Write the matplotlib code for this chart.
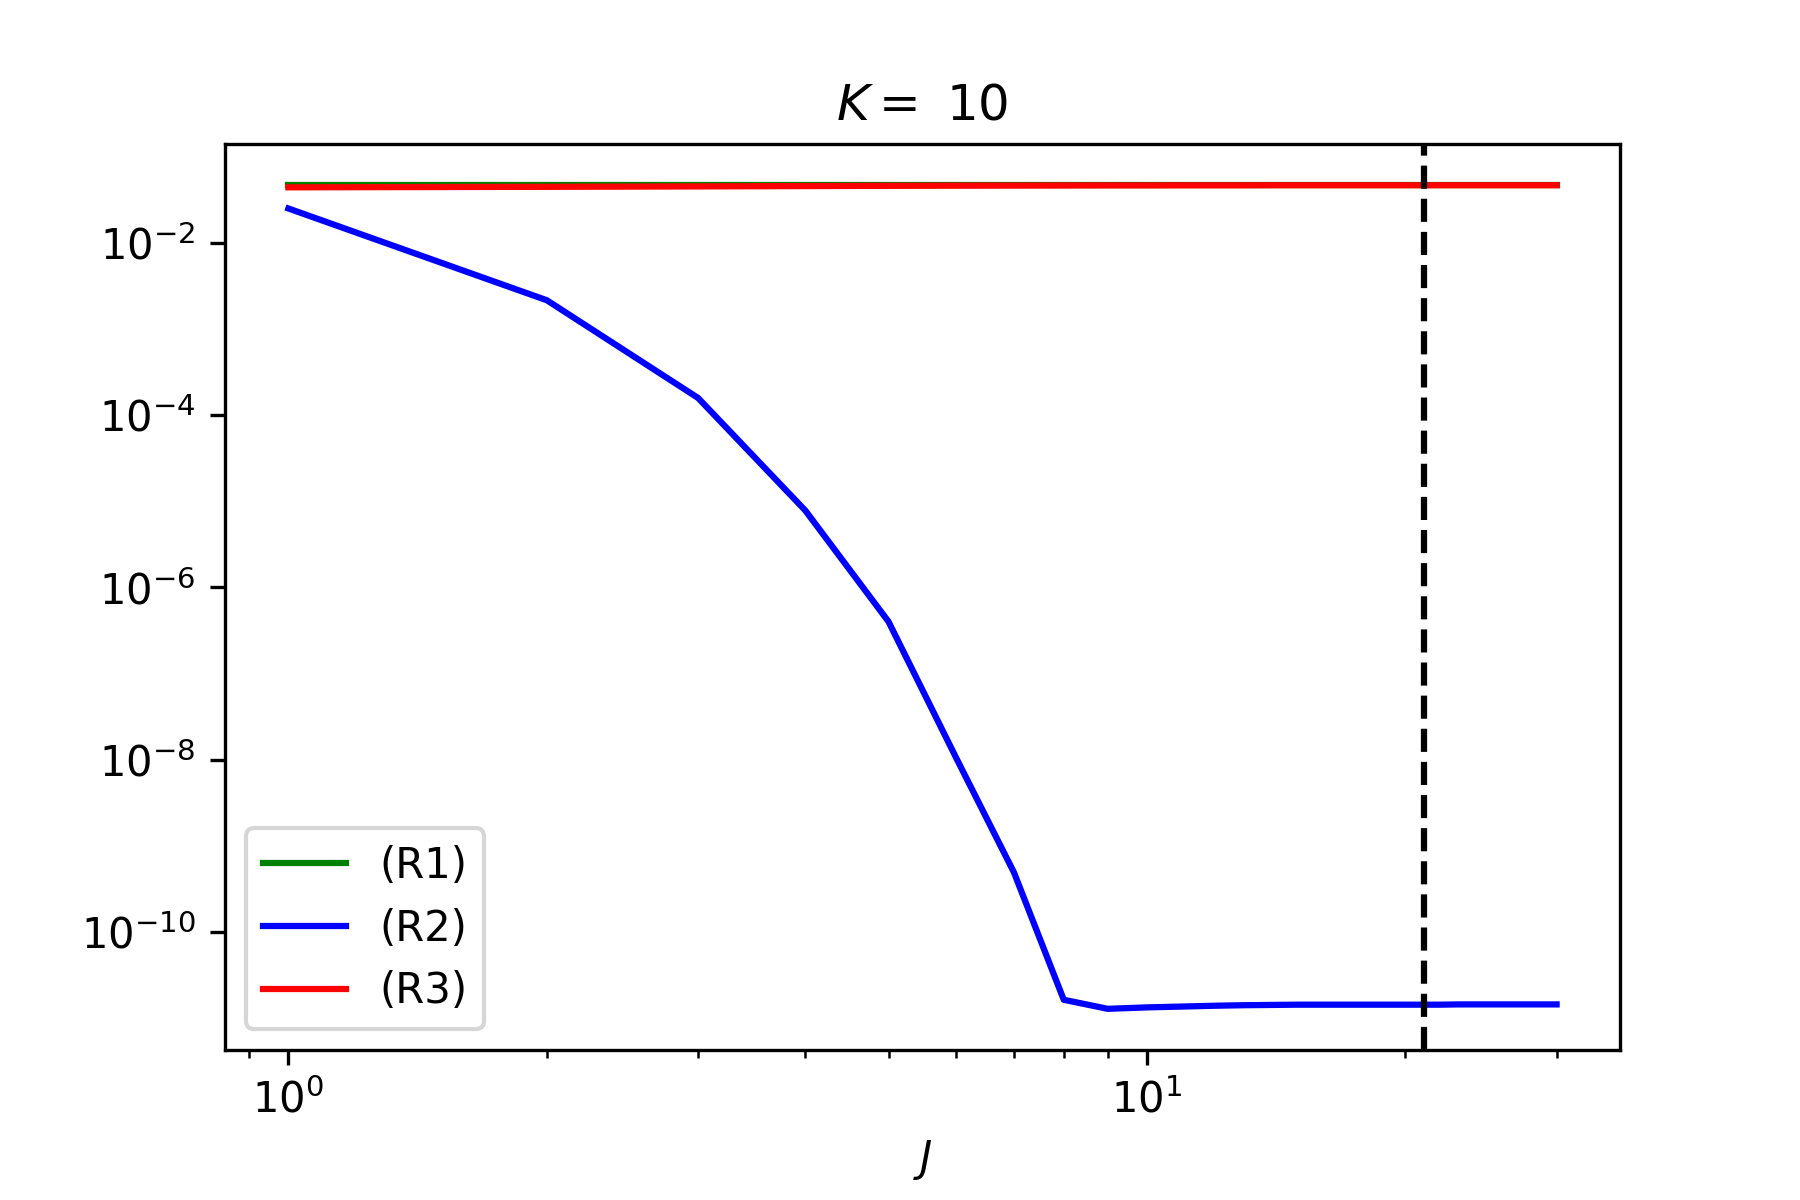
import matplotlib
matplotlib.use('Agg')
import numpy as np
import matplotlib.pyplot as plt

# --- dados ---
K = 10
J = np.arange(1, 31)

r1 = [0.0466] * 30
r2 = [2.5e-2, 2.15e-3, 1.58e-4, 7.8e-6, 4.0e-7, 1.03e-8, 4.9e-10, 1.63e-11,
      1.28e-11, 1.33e-11, 1.36e-11, 1.39e-11, 1.41e-11, 1.42e-11, 1.43e-11,
      1.43e-11, 1.43e-11, 1.43e-11, 1.43e-11, 1.43e-11, 1.43e-11, 1.43e-11,
      1.44e-11, 1.44e-11, 1.44e-11, 1.44e-11, 1.44e-11, 1.44e-11, 1.44e-11,
      1.44e-11]
r3 = [0.0440, 0.0446, 0.0451, 0.0455, 0.0458, 0.0460, 0.0461, 0.0462,
      0.0463, 0.0463, 0.0464, 0.0464, 0.0464, 0.0465, 0.0465, 0.0465,
      0.0465, 0.0465, 0.0465, 0.0465, 0.0465, 0.0465, 0.0465, 0.0465,
      0.0465, 0.0465, 0.0465, 0.0465, 0.0465, 0.0465]
J_corte = 21

fig = plt.figure(figsize=(6, 4), dpi=300)
ax = fig.add_subplot(111)
fig.subplots_adjust(left=0.125, right=0.9, top=0.88, bottom=0.125)

ax.loglog(J, r1, color='green', label='(R1)')
ax.loglog(J, r2, color='blue', label='(R2)')
ax.loglog(J, r3, color='red', label='(R3)')
ax.axvline(J_corte, color='black', linestyle='--')

ax.yaxis.set_minor_locator(matplotlib.ticker.NullLocator())
ax.set_xlabel('$J$')
ax.set_title('$K = $ ' + str(K))
ax.legend(loc='lower left')

fig.savefig('out.png', dpi=300)
